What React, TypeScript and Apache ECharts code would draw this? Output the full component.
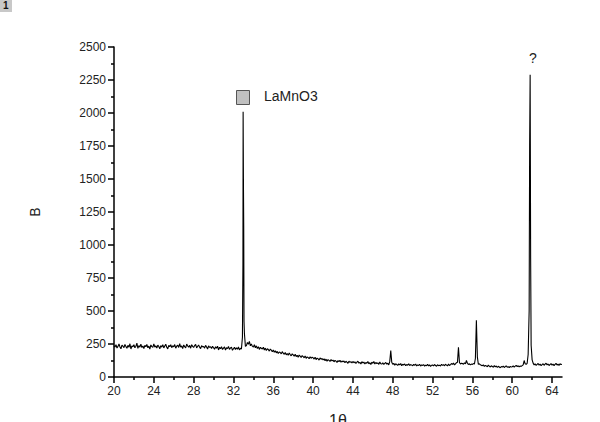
import React, { useEffect, useRef } from "react";
import * as echarts from "echarts";

// Diffraction angle grid for the measured intensities
const angleStart = 20.0;
const angleStep = 0.1;

// Measured intensity, one row per degree (10 points each, 20.0 .. 65.0)
const intensity: number[] = [
  238, 226, 245, 219, 232, 250, 228, 214, 241, 233,
  222, 247, 230, 218, 240, 225, 252, 212, 236, 229,
  244, 221, 233, 256, 217, 238, 226, 249, 223, 235,
  216, 240, 229, 247, 221, 234, 212, 243, 230, 225,
  251, 227, 236, 219, 242, 231, 214, 238, 226, 245,
  220, 234, 248, 225, 213, 239, 230, 244, 222, 236,
  229, 246, 218, 233, 241, 224, 252, 227, 235, 215,
  243, 230, 221, 249, 236, 226, 240, 218, 245, 232,
  224, 238, 247, 220, 233, 242, 226, 215, 237, 229,
  231, 219, 240, 227, 212, 236, 224, 230, 216, 233,
  222, 210, 229, 218, 234, 205, 225, 214, 230, 208,
  219, 228, 204, 222, 215, 231, 209, 220, 226, 203,
  214, 225, 208, 221, 210, 227, 205, 218, 212, 300,
  1500, 330, 232, 238, 262, 248, 270, 236, 250, 232,
  228, 244, 221, 236, 215, 230, 209, 225, 218, 212,
  226, 205, 219, 200, 214, 208, 196, 212, 203, 192,
  205, 188, 199, 183, 194, 178, 190, 186, 175, 192,
  180, 172, 186, 168, 178, 165, 182, 170, 160, 176,
  168, 158, 172, 155, 164, 150, 166, 158, 148, 162,
  155, 145, 160, 141, 152, 148, 138, 154, 142, 150,
  146, 136, 150, 132, 143, 138, 128, 145, 134, 140,
  130, 138, 124, 135, 120, 132, 126, 118, 133, 122,
  128, 115, 126, 120, 110, 124, 117, 127, 112, 121,
  114, 122, 108, 119, 113, 104, 120, 111, 117, 106,
  118, 108, 115, 102, 112, 120, 105, 111, 99, 116,
  106, 113, 98, 110, 104, 117, 100, 108, 95, 112,
  104, 118, 99, 110, 102, 107, 96, 113, 101, 98,
  108, 95, 103, 110, 97, 104, 92, 118, 200, 112,
  96, 104, 90, 100, 94, 88, 99, 92, 102, 86,
  97, 91, 99, 85, 95, 89, 101, 87, 94, 90,
  86, 95, 89, 98, 84, 92, 87, 96, 83, 91,
  88, 94, 82, 90, 86, 97, 84, 92, 80, 89,
  91, 84, 95, 87, 82, 93, 86, 90, 83, 96,
  88, 93, 85, 97, 90, 84, 99, 87, 94, 102,
  96, 105, 92, 100, 108, 112, 225, 110, 98, 104,
  102, 96, 108, 99, 125, 104, 95, 100, 92, 98,
  95, 102, 98, 140, 430, 150, 96, 100, 92, 88,
  86, 92, 80, 88, 84, 78, 90, 82, 76, 85,
  80, 74, 86, 77, 83, 72, 81, 76, 70, 79,
  75, 82, 72, 79, 84, 74, 78, 71, 80, 76,
  78, 84, 75, 82, 88, 79, 85, 77, 83, 80,
  86, 92, 125, 100, 96, 104, 170, 500, 2290, 240,
  130, 105, 92, 100, 88, 96, 102, 90, 98, 86,
  94, 100, 89, 97, 104, 92, 99, 87, 95, 101,
  90, 98, 86, 96, 103, 91, 97, 88, 100, 94,
  96,
];

// Extra finely-sampled points on the two strongest reflections
const peakDetail: [number, number][] = [
  [32.95, 850],
  [32.97, 2010],
  [33.03, 1140],
  [33.06, 420],
  [61.75, 1760],
  [61.85, 900],
];

const xTicks = [20, 24, 28, 32, 36, 40, 44, 48, 52, 56, 60, 64];

export default function App() {
  const ref = useRef<HTMLDivElement>(null);

  useEffect(() => {
    if (!ref.current) return;
    const chart = echarts.init(ref.current, undefined, { renderer: "svg" });

    const pts: [number, number][] = intensity.map((v, i) => [
      Math.round((angleStart + i * angleStep) * 100) / 100,
      v,
    ]);
    const data = pts.concat(peakDetail).sort((a, b) => a[0] - b[0]);

    const labelFont = {
      color: "#222",
      fontSize: 12,
      fontFamily: "Liberation Sans, Arial, sans-serif",
    };

    chart.setOption({
      animation: false,
      backgroundColor: "#fff",
      grid: {
        left: 114,
        right: 38,
        top: 47,
        bottom: 45,
        containLabel: false,
        outerBoundsMode: "none",
      },
      xAxis: {
        type: "value",
        min: 20,
        max: 65,
        interval: 4,
        name: "1θ",
        nameLocation: "middle",
        nameGap: 35,
        nameTextStyle: { ...labelFont, fontSize: 16 },
        axisLine: { lineStyle: { color: "#000", width: 1.5 } },
        axisTick: {
          inside: false,
          length: 6,
          lineStyle: { color: "#000", width: 1.5 },
          customValues: xTicks,
        },
        axisLabel: { ...labelFont, margin: 8, customValues: xTicks },
        minorTick: { show: true, splitNumber: 2, length: 3, lineStyle: { color: "#000", width: 1.5 } },
        splitLine: { show: false },
      },
      yAxis: {
        type: "value",
        min: 0,
        max: 2500,
        interval: 250,
        name: "B",
        nameLocation: "middle",
        nameGap: 72,
        nameTextStyle: { ...labelFont, fontSize: 14 },
        axisLine: { show: true, lineStyle: { color: "#000", width: 1.5 } },
        axisTick: { show: true, inside: false, length: 6, lineStyle: { color: "#000", width: 1.5 } },
        axisLabel: { ...labelFont, margin: 8, formatter: (v: number) => String(v) },
        minorTick: { show: true, splitNumber: 2, length: 3, lineStyle: { color: "#000", width: 1.5 } },
        splitLine: { show: false },
      },
      series: [
        {
          type: "line",
          data,
          symbol: "none",
          lineStyle: { color: "#000", width: 1.1 },
        },
      ],
      graphic: [
        {
          type: "rect",
          left: 0,
          top: 0,
          shape: { width: 12, height: 12 },
          style: { fill: "#c8c8c8" },
        },
        {
          type: "text",
          left: 3,
          top: 0,
          style: { text: "1", fontSize: 10, fontWeight: "bold", fill: "#111", fontFamily: "Liberation Sans, Arial" },
        },
        {
          type: "rect",
          left: 236,
          top: 90,
          shape: { width: 13, height: 14 },
          style: { fill: "#c0c0c0", stroke: "#555", lineWidth: 1 },
        },
        {
          type: "text",
          left: 264,
          top: 89,
          style: { text: "LaMnO3", fontSize: 14, fill: "#222", fontFamily: "Liberation Sans, Arial" },
        },
        {
          type: "text",
          left: 529,
          top: 51,
          style: { text: "?", fontSize: 14, fill: "#222", fontFamily: "Liberation Sans, Arial" },
        },
      ],
    });

    return () => chart.dispose();
  }, []);

  return (
    <div
      ref={ref}
      style={{ position: "fixed", left: 0, top: 0, width: 600, height: 422 }}
    />
  );
}
